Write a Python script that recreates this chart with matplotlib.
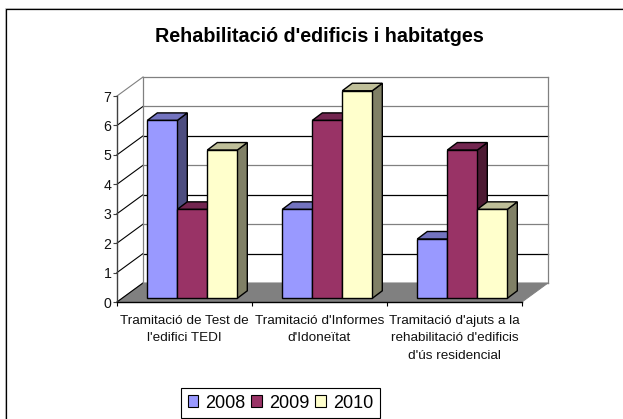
import matplotlib
matplotlib.use('Agg')
import matplotlib.pyplot as plt
from matplotlib.patches import Patch

plt.rcParams['font.family'] = ['Liberation Sans', 'DejaVu Sans']

categories = ["Tramitació de Test de\nl'edifici TEDI",
              "Tramitació d'Informes\nd'Idoneïtat",
              "Tramitació d'ajuts a la\nrehabilitació d'edificis\nd'ús residencial"]
years = ['2008', '2009', '2010']
v2008 = [6, 3, 2]
v2009 = [3, 6, 5]
v2010 = [5, 7, 3]
yticks = [0, 1, 2, 3, 4, 5, 6, 7]

front = ['#9999FF', '#993366', '#FFFFCC']
top = ['#7373BF', '#732650', '#BFBF99']
side = ['#4D4D80', '#4D1A33', '#808066']
grid_cols = ['#808080', '#000000', '#808080', '#000000', '#808080', '#000000', '#808080', '#808080']

W, H = 623, 419
fig = plt.figure(figsize=(W / 100, H / 100), dpi=100, facecolor='white')
# chart frame, cut off at right and bottom, with its faint shadow line
fig.add_artist(plt.Line2D([4.5 / W, 4.5 / W, 1], [0, 1 - 8.5 / H, 1 - 8.5 / H], color='#C8C8C8', lw=0.7,
                          transform=fig.transFigure))
fig.add_artist(plt.Line2D([5.5 / W, 5.5 / W, 1], [0, 1 - 9.5 / H, 1 - 9.5 / H], color='black', lw=0.9,
                          transform=fig.transFigure))

# axes = front plane of the 3d box
ax = fig.add_axes([117 / W, (H - 302) / H, 405 / W, 206 / H])
ax.set_xlim(0, 3)
ax.set_ylim(0, 7)
ax.patch.set_visible(False)

px = 3 / 405
py = 7 / 206
wall_dx = 26 * px
wall_dy = 19 * py
bar_dx = 10 * px
bar_dy = 7.5 * py
bar_w = 30 * px
base = 3.7 * py
scale = 29.65 * py


def poly(xs, ys, fc, ec='black', lw=1.0, z=3):
    ax.fill(xs, ys, facecolor=fc, edgecolor=ec, lw=lw, zorder=z, clip_on=False, joinstyle='miter')


# floor
poly([0, 3, 3 + wall_dx, wall_dx], [0, 0, wall_dy, wall_dy], '#808080', ec='#808080', lw=0.7, z=1)

# walls and gridlines
for v, c in zip(yticks, grid_cols):
    ax.plot([0, wall_dx], [v, v + wall_dy], color='black' if v < 7 else '#808080', lw=0.8,
            zorder=1, clip_on=False)
    ax.plot([wall_dx, 3 + wall_dx], [v + wall_dy, v + wall_dy], color=c, lw=0.9, zorder=1, clip_on=False)
ax.plot([wall_dx, wall_dx], [wall_dy, 7 + wall_dy], color='#808080', lw=0.9, zorder=1, clip_on=False)
ax.plot([3 + wall_dx, 3 + wall_dx], [wall_dy, 7 + wall_dy], color='#808080', lw=0.9, zorder=1, clip_on=False)

# bars
starts = [30.3 * px + i for i in range(3)]
for i, start in enumerate(starts):
    for j, vals in enumerate([v2008, v2009, v2010]):
        x0 = start + j * bar_w
        x1 = x0 + bar_w
        y0 = base
        y1 = base + vals[i] * scale
        poly([x1, x1 + bar_dx, x1 + bar_dx, x1], [y0, y0 + bar_dy, y1 + bar_dy, y1], side[j])
        poly([x0, x1, x1 + bar_dx, x0 + bar_dx], [y1, y1, y1 + bar_dy, y1 + bar_dy], top[j])
        poly([x0, x1, x1, x0], [y0, y0, y1, y1], front[j])

for s in ['top', 'right']:
    ax.spines[s].set_visible(False)
ax.spines['left'].set_color('#404040')
ax.spines['left'].set_linewidth(1.0)
ax.spines['bottom'].set_color('black')
ax.spines['bottom'].set_linewidth(1.0)
ax.spines['left'].set_zorder(5)
ax.spines['bottom'].set_zorder(5)

ax.set_yticks(yticks)
ax.set_xticks([0, 1, 2, 3])
ax.set_xticklabels([])
ax.tick_params(axis='y', labelsize=10.2, length=3, width=0.8, pad=1, color='#404040', labelcolor='#111111')
ax.tick_params(axis='x', length=3, width=0.8, direction='out', color='black')

for i, c in enumerate(categories):
    ax.annotate(c, (i + 0.5, 0), xytext=(0, -9.2), textcoords='offset points', ha='center', va='top',
                fontsize=9.7, linespacing=1.62, color='#111111')

fig.text(319 / W, 1 - 36 / H, "Rehabilitació d'edificis i habitatges", ha='center', va='center',
         fontsize=14.2, fontweight='bold')

handles = [Patch(facecolor=c, edgecolor='black', lw=0.8) for c in front]
leg = fig.legend(handles, years, loc='center', bbox_to_anchor=(280.5 / W, 1 - 403 / H), ncol=3,
                 fontsize=13, frameon=True, fancybox=False, framealpha=1, edgecolor='black',
                 handlelength=0.6, handleheight=0.6, handletextpad=0.4, columnspacing=0.3,
                 borderpad=0.35, borderaxespad=0)
leg.get_frame().set_linewidth(0.8)

fig.savefig('out.png', dpi=100)
